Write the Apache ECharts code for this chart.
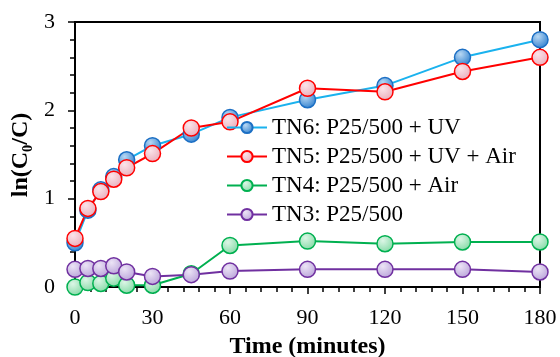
<!DOCTYPE html>
<html>
<head>
<meta charset="utf-8">
<script src="https://cdn.jsdelivr.net/npm/echarts@6/dist/echarts.min.js"></script>
<style>
  html, body { margin: 0; padding: 0; background: #fff; }
  #chart { width: 560px; height: 357px; }
</style>
</head>
<body>
<div id="chart"></div>
<script>
// time points (minutes)
const times = [0, 5, 10, 15, 20, 30, 45, 60, 90, 120, 150, 180]
// ln(C0/C)
const tn6 = [0.50, 0.87, 1.10, 1.25, 1.44, 1.60, 1.73, 1.92, 2.12, 2.28, 2.60, 2.80]
const tn5 = [0.55, 0.89, 1.08, 1.22, 1.35, 1.51, 1.80, 1.87, 2.25, 2.21, 2.44, 2.60]
const tn4 = [0.00, 0.05, 0.04, 0.10, 0.02, 0.02, 0.15, 0.47, 0.52, 0.49, 0.51, 0.51]
const tn3 = [0.20, 0.21, 0.21, 0.24, 0.17, 0.12, 0.14, 0.18, 0.20, 0.20, 0.20, 0.17]
const seriesNames = ['TN6: P25/500 + UV', 'TN5: P25/500 + UV + Air', 'TN4: P25/500 + Air', 'TN3: P25/500']

const font = 'Liberation Serif'
const black = '#000'

function marker(light, base) {
    return new echarts.graphic.RadialGradient(0.38, 0.32, 0.75, [
        { offset: 0, color: light },
        { offset: 1, color: base }
    ])
}

function makeSeries(name, data, lineColor, light, base, border) {
    return {
        name: name,
        type: 'line',
        data: times.map((t, i) => [t, data[i]]),
        symbol: 'circle',
        symbolSize: 16,
        clip: false,
        lineStyle: { color: lineColor, width: 2 },
        itemStyle: { color: marker(light, base), borderColor: border, borderWidth: 1.5 }
    }
}

const chart = echarts.init(document.getElementById('chart'))
chart.setOption({
    animation: false,
    textStyle: { fontFamily: font },
    grid: {
        left: 75, right: 20, top: 22, bottom: 70,
        outerBoundsMode: 'none',
        show: true, borderColor: black, borderWidth: 2
    },
    // y title drawn as plain text, the axis name broke the axis lines in v6
    graphic: [
        {
            type: 'text',
            x: 21, y: 155,
            rotation: Math.PI / 2,
            style: {
                text: 'ln(C₀/C)',
                font: 'bold 24px "Liberation Serif"',
                fill: black,
                align: 'center',
                verticalAlign: 'middle'
            }
        }
    ],
    legend: {
        orient: 'vertical',
        left: 221, top: 111,
        itemWidth: 40, itemHeight: 14,
        itemGap: 6,
        textStyle: { fontFamily: font, fontSize: 23, color: black },
        data: seriesNames
    },
    xAxis: {
        type: 'value',
        min: 0, max: 180, interval: 30,
        name: 'Time (minutes)',
        nameLocation: 'middle',
        nameGap: 48,
        nameTextStyle: { fontFamily: font, fontSize: 24, fontWeight: 'bold', color: black },
        axisLine: { show: true, onZero: false, lineStyle: { color: black, width: 2 } },
        axisTick: { show: true, length: 7, lineStyle: { color: black, width: 1.5 } },
        minorTick: { show: true, splitNumber: 5, length: 5, lineStyle: { color: black, width: 1.5 } },
        axisLabel: { fontFamily: font, fontSize: 22, color: black, margin: 20 },
        splitLine: { show: false }
    },
    yAxis: {
        type: 'value',
        min: 0, max: 3, interval: 1,
        axisLine: { show: true, onZero: false, lineStyle: { color: black, width: 2 } },
        axisTick: { show: true, length: 7, lineStyle: { color: black, width: 1.5 } },
        minorTick: { show: true, splitNumber: 5, length: 5, lineStyle: { color: black, width: 1.5 } },
        axisLabel: { fontFamily: font, fontSize: 22, color: black, margin: 20 },
        splitLine: { show: false }
    },
    series: [
        makeSeries(seriesNames[0], tn6, '#1ab2ee', '#b8d8f4', '#2a7ccc', '#1c6fc4'),
        makeSeries(seriesNames[1], tn5, '#ff0000', '#fbe4ea', '#e9aab8', '#ff0000'),
        makeSeries(seriesNames[2], tn4, '#00b050', '#dcf6e6', '#7fd8a2', '#00b050'),
        makeSeries(seriesNames[3], tn3, '#7030a0', '#ece4f6', '#b7a0d8', '#7030a0')
    ]
})

window.addEventListener('resize', () => {
    chart.resize()
})
</script>
</body>
</html>
